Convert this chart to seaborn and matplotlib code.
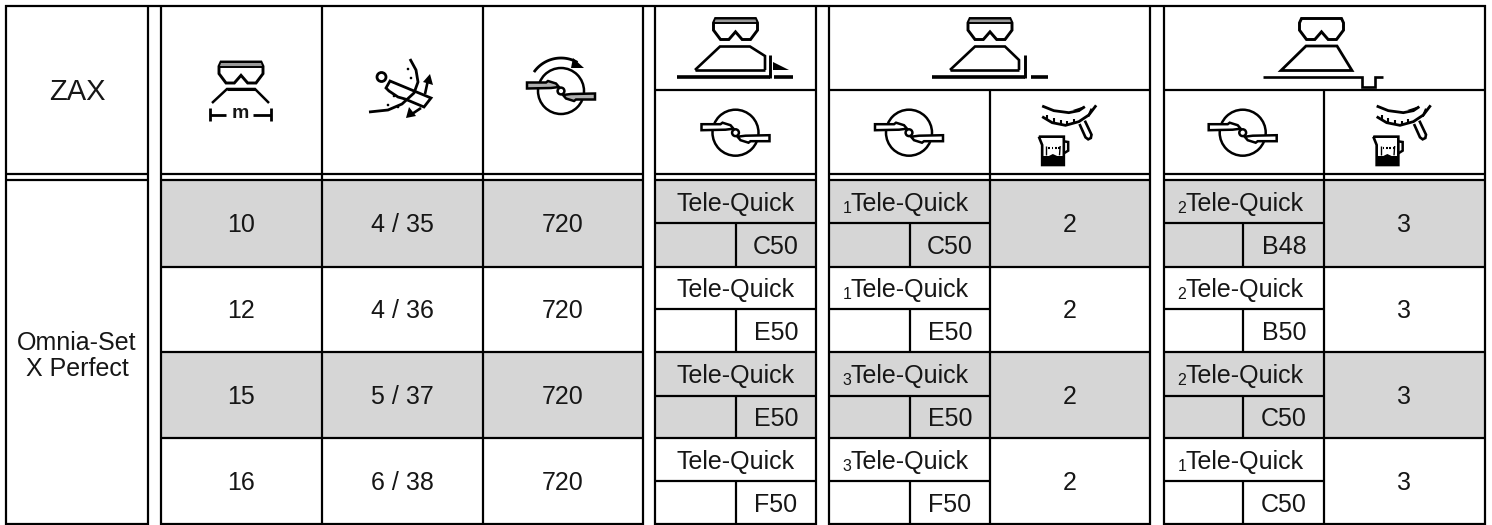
import matplotlib
matplotlib.use("Agg")
import matplotlib.pyplot as plt
from matplotlib.colors import ListedColormap
from matplotlib.patches import Circle, Polygon
import numpy as np
import seaborn as sns

corner_label = "ZAX"
product_label = "Omnia-Set\nX Perfect"
working_width = ["10", "12", "15", "16"]
setting = ["4 / 35", "4 / 36", "5 / 37", "6 / 38"]
pto_speed = ["720", "720", "720", "720"]
tool_name = "Tele-Quick"
normal_vane = ["C50", "E50", "E50", "F50"]
late_index = ["1", "1", "3", "3"]
late_vane = ["C50", "E50", "E50", "F50"]
late_flow = ["2", "2", "2", "2"]
ditch_index = ["2", "2", "2", "1"]
ditch_vane = ["B48", "B50", "C50", "C50"]
ditch_flow = ["3", "3", "3", "3"]
row_shade = [[1], [0], [1], [0]]

GREY = "#d6d6d6"
INK = "#161616"
W, H = 1492, 525

sns.set_style("white")
plt.rcParams["font.family"] = ["Liberation Sans", "DejaVu Sans"]

fig = plt.figure(figsize=(W / 100, H / 100), dpi=100)

# shaded rows, one heatmap per table block
for x0, x1 in [(161, 643), (655, 816), (829, 1150), (1164, 1485)]:
    band = fig.add_axes([x0 / W, 1 - 524 / H, (x1 - x0) / W, 344 / H], zorder=1)
    sns.heatmap(row_shade, ax=band, cbar=False, cmap=ListedColormap(["white", GREY]),
                vmin=0, vmax=1, xticklabels=False, yticklabels=False)

ax = fig.add_axes([0, 0, 1, 1], zorder=2)
ax.set_xlim(0, W)
ax.set_ylim(H, 0)
ax.axis("off")


def line(pts, lw=1.5, color="black", cap="butt", closed=False):
    pts = list(pts)
    if closed:
        pts = pts + [pts[0]]
    xs, ys = zip(*pts)
    ax.plot(xs, ys, color=color, lw=lw, solid_capstyle=cap, solid_joinstyle="miter")


def hl(y, x0, x1, lw=1.6):
    line([(x0, y), (x1, y)], lw=lw)


def vl(x, y0, y1, lw=1.6):
    line([(x, y0), (x, y1)], lw=lw)


def fill(pts, fc="black", ec="none", lw=0):
    ax.add_patch(Polygon(pts, closed=True, fc=fc, ec=ec, lw=lw, joinstyle="miter"))


def txt(x, y, s, size=18, **kw):
    ax.text(x, y, s, fontsize=size, ha="center", va="center", color=INK, **kw)


def curve(cx, cy, r, a0, a1, n=30):
    a = np.radians(np.linspace(a0, a1, n))
    return list(zip(cx + r * np.cos(a), cy + r * np.sin(a)))


def hopper(cx, top, band_grey=True):
    z = [(-60, 0), (-66, 13), (-66, 35), (-45, 63), (-20, 63), (0, 40),
         (20, 63), (45, 63), (66, 35), (66, 13), (60, 0)]
    pts = [(cx + a / 3, top + b / 3) for a, b in z]
    fill(pts, fc="white", ec="black", lw=2.1)
    if band_grey:
        fill([(cx - 20, top + 1), (cx + 20, top + 1), (cx + 21, top + 4), (cx - 21, top + 4)], fc="#9a9a9a")
        hl(top + 4.5, cx - 22, cx + 22, lw=1.4)


def disc(cx, cy, vane_fc="white"):
    ax.add_patch(Circle((cx, cy), 23, fc="none", ec="black", lw=1.8))
    vane = [(-34, -8.5), (-15, -8.5), (-13, -10), (-5, -7.5), (-2, -4), (-10, -3), (-34, -2.5)]
    for sign in (1, -1):
        fill([(cx + sign * a, cy + sign * b) for a, b in vane], fc=vane_fc, ec="black", lw=1.8)
    ax.add_patch(Circle((cx, cy), 3.4, fc="white", ec="black", lw=1.8))


def gauge_and_jug(ox):
    p = lambda x, y: (ox + x / 3, y / 3)
    line([p(920, 318), p(955, 332), p(1000, 338), p(1030, 332), p(1048, 320)], lw=2.0)
    fill([p(1012, 330), p(1048, 318), p(1030, 336)])
    line([p(920, 350), p(950, 368), p(990, 376), p(1030, 365), p(1060, 345), p(1082, 316)], lw=2.0)
    for x, y in [(935, 358), (955, 367), (975, 373), (995, 375), (1015, 371)]:
        line([p(x, y), p(x, y - 13)], lw=1.5)
    line([p(1068, 326), p(1058, 350)], lw=1.5)
    line([p(1032, 372), p(1050, 412), p(1058, 418), p(1066, 414), p(1068, 404), p(1048, 362)], lw=1.9)
    line([p(910, 410), p(985, 410), p(985, 495), p(920, 495), p(920, 435)], lw=1.9, closed=True)
    fill([p(920, 468), p(940, 468), p(952, 462), p(965, 468), p(985, 468), p(985, 495), p(920, 495)])
    line([p(985, 424), p(998, 426), p(998, 452), p(985, 460)], lw=1.8)
    line([p(932, 438), p(932, 466)], lw=1.0)
    line([p(974, 438), p(972, 466)], lw=1.0)
    for x in (938, 948, 958, 968):
        line([p(x, 445), p(x + 5, 445)], lw=1.5)


# grid lines
hl(6, 5, 1486)
for x0, x1 in [(5, 149), (160, 644), (654, 817), (828, 1151), (1163, 1486)]:
    hl(174, x0, x1)
    hl(180, x0, x1)
    hl(524, x0, x1)
for x in (6, 148, 161, 643, 655, 816, 829, 1150, 1164, 1485):
    vl(x, 5, 525)
for x in (322, 483):
    vl(x, 6, 524)
for x0, x1 in [(161, 644), (654, 817), (828, 1151), (1163, 1486)]:
    for y in (267, 352, 438):
        hl(y, x0, x1)
for x0, x1 in [(655, 816), (829, 990), (1164, 1324)]:
    for y in (223, 309, 396, 481):
        hl(y, x0, x1)
for x0, x1 in [(655, 816), (829, 1150), (1164, 1485)]:
    hl(90, x0, x1)
for x in (990, 1324):
    vl(x, 90, 524)
for x in (736, 910, 1243):
    for y0, y1 in [(223, 267), (309, 352), (396, 438), (481, 524)]:
        vl(x, y0, y1)

# header cells
txt(77, 92, corner_label, size=21)
txt(77, 356, product_label, linespacing=1.13)

# working width icon
hopper(241, 62)
line([(212, 103), (227, 89), (255, 89), (269, 103)], lw=1.8)
hl(89, 227, 255, lw=2.2)
vl(210, 108, 121, lw=2.0)
hl(115, 210, 226, lw=2.0)
hl(115, 253, 271, lw=2.0)
vl(271, 108, 121, lw=2.0)
txt(240, 114, "m", size=14, fontweight="bold")

# setting icon
ax.add_patch(Circle((381.5, 77), 4.5, fc="white", ec="black", lw=2.0))
line([(410, 59), (416, 70), (418, 82), (414, 93), (402, 104), (388, 110), (369, 112)], lw=2.0)
fill([(390, 81), (431, 98), (424, 107), (405, 99), (398, 97), (395, 95), (389, 91), (386, 88)], fc="white", ec="black", lw=2.0)
for x, y in [(408, 69), (411, 78), (394, 96), (388, 105), (398, 107)]:
    ax.add_patch(Circle((x, y), 1.3, fc="black", ec="none"))
line([(425, 94), (428, 80)], lw=1.9)
fill([(423, 82), (430, 74), (433, 85)])
line([(421, 108), (412, 114)], lw=1.9)
fill([(406, 118), (409, 107), (416, 116)])

# rotation icon
disc(561, 91, vane_fc="#b0b0b0")
line(curve(561, 91, 33, 215, 300), lw=2.0)
fill([(573, 58), (584, 68), (571, 68)])

# spreader header icons
for cx, vane_fc in [(735.5, "white"), (909, "white"), (1242.7, "white")]:
    disc(cx, 132.7, vane_fc=vane_fc)

hopper(735.5, 18.5)
line([(695, 70), (720, 46.5), (750, 46.5), (765, 56), (765, 70)], lw=1.9)
hl(70, 695, 765, lw=1.9)
hl(77, 677, 770, lw=2.6)
vl(770, 55, 78, lw=2.1)
fill([(773, 62), (789, 70), (773, 70)])
hl(77, 774, 793, lw=2.6)

hopper(990, 18.5)
line([(950, 70), (975, 46.5), (1005, 46.5), (1019, 60), (1019, 70)], lw=1.9)
hl(70, 950, 1019, lw=1.9)
hl(77, 932, 1025, lw=2.6)
vl(1025, 55, 78, lw=2.1)
hl(77, 1031, 1048, lw=2.6)

hopper(1321.5, 18.5, band_grey=False)
fill([(1281, 70.5), (1306, 46), (1337, 46), (1352, 70.5)], fc="white", ec="black", lw=2.0)
line([(1263, 77), (1362, 77), (1362, 86.5), (1375, 86.5), (1375, 77), (1383, 77)], lw=1.9)

gauge_and_jug(1070)
gauge_and_jug(735.5)

# body rows
row_y = [225, 311, 396.5, 482.5]
tele_y = [203.5, 289.5, 375.5, 461.5]
vane_y = [246.5, 332.5, 418.5, 504.5]
for i in range(4):
    txt(241, row_y[i], working_width[i])
    txt(402, row_y[i], setting[i])
    txt(563, row_y[i], pto_speed[i])
    txt(735.5, tele_y[i], tool_name)
    txt(776, vane_y[i], normal_vane[i])
    txt(910, tele_y[i], tool_name)
    txt(847, tele_y[i] + 5, late_index[i], size=11.5)
    txt(950, vane_y[i], late_vane[i])
    txt(1070, row_y[i], late_flow[i])
    txt(1245, tele_y[i], tool_name)
    txt(1182, tele_y[i] + 5, ditch_index[i], size=11.5)
    txt(1284, vane_y[i], ditch_vane[i])
    txt(1404.5, row_y[i], ditch_flow[i])

fig.savefig("out.png", dpi=100)
